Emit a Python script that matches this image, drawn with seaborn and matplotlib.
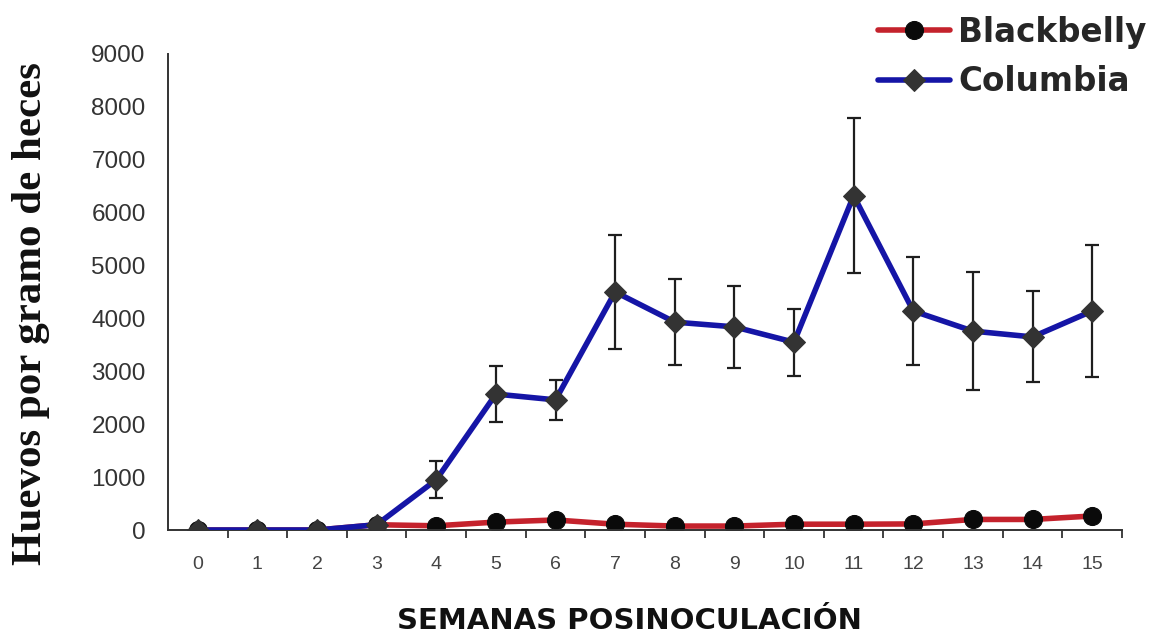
import numpy as np
import pandas as pd
import seaborn as sns
import matplotlib.pyplot as plt
from matplotlib.ticker import FixedLocator

# Weekly egg counts (eggs per gram of faeces) after inoculation
weeks = list(range(16))
blackbelly = [0, 0, 0, 100, 80, 150, 190, 110, 75, 75, 110, 110, 115, 200, 200, 265]
columbia = [0, 0, 0, 100, 950, 2570, 2460, 4500, 3930, 3840, 3550, 6320, 4140, 3760, 3650, 4140]
columbia_err = [0, 0, 0, 0, 350, 530, 380, 1070, 810, 780, 630, 1470, 1030, 1110, 860, 1250]
y_ticks = list(range(0, 9001, 1000))

df = pd.DataFrame({"semana": weeks, "Blackbelly": blackbelly, "Columbia": columbia})

sns.set_style("white")
plt.rcParams["font.family"] = ["Liberation Sans", "DejaVu Sans"]

fig = plt.figure(figsize=(11.6, 6.34), dpi=100)
ax = fig.add_axes([0.1448, 0.164, 0.8224, 0.751])

# standard-error bars for Columbia
ax.errorbar(weeks, columbia, yerr=columbia_err, fmt="none", ecolor="#1e1e1e",
            elinewidth=1.6, capsize=4.8, capthick=1.6, zorder=1.5)

sns.lineplot(data=df, x="semana", y="Blackbelly", ax=ax, color="#c4222c",
             linewidth=4, marker="o", markersize=13, markerfacecolor="#0a0a0a",
             markeredgecolor="#0a0a0a", label="Blackbelly", zorder=2)
sns.lineplot(data=df, x="semana", y="Columbia", ax=ax, color="#1515a6",
             linewidth=4, marker="D", markersize=11, markerfacecolor="#333333",
             markeredgecolor="#333333", label="Columbia", zorder=3)

ax.set_xlim(-0.5, 15.5)
ax.set_ylim(0, 9000)

# category labels centred, tick marks between categories
ax.xaxis.set_major_locator(FixedLocator(weeks))
ax.set_xticklabels([str(w) for w in weeks])
ax.xaxis.set_minor_locator(FixedLocator(np.arange(0.5, 15.6, 1.0)))
ax.tick_params(axis="x", which="major", bottom=False, length=0, pad=19,
               labelsize=14, labelcolor="#444444")
ax.tick_params(axis="x", which="minor", bottom=True, length=6, width=1.3,
               color="#333333", direction="out")
ax.set_yticks(y_ticks)
ax.tick_params(axis="y", length=6, width=1.3, color="#333333", direction="out",
               pad=10, labelsize=17.5, labelcolor="#333333")

for side in ("top", "right"):
    ax.spines[side].set_visible(False)
for side in ("left", "bottom"):
    ax.spines[side].set_color("#333333")
    ax.spines[side].set_linewidth(1.4)

ax.set_xlabel("")
ax.set_ylabel("")
fig.text(0.543, 0.02, "SEMANAS POSINOCULACIÓN", ha="center", va="center",
         fontsize=21, fontweight="bold", color="#111111",
         family=["DejaVu Sans"])
fig.text(0.027, 0.505, "Huevos por gramo de heces", ha="center", va="center",
         rotation=90, fontsize=31, fontweight="bold", color="#111111",
         family=["Liberation Serif", "DejaVu Serif"])

handles, labels = ax.get_legend_handles_labels()
ax.get_legend().remove()
fig.legend(handles, labels, loc="upper left", bbox_to_anchor=(0.757, 0.975),
           frameon=False, prop={"weight": "bold", "size": 23.5, "family": "DejaVu Sans"},
           borderpad=0, borderaxespad=0, handlelength=2.2, handletextpad=0.25,
           labelspacing=0.5)

fig.savefig("out.png", dpi=100, facecolor="white")
